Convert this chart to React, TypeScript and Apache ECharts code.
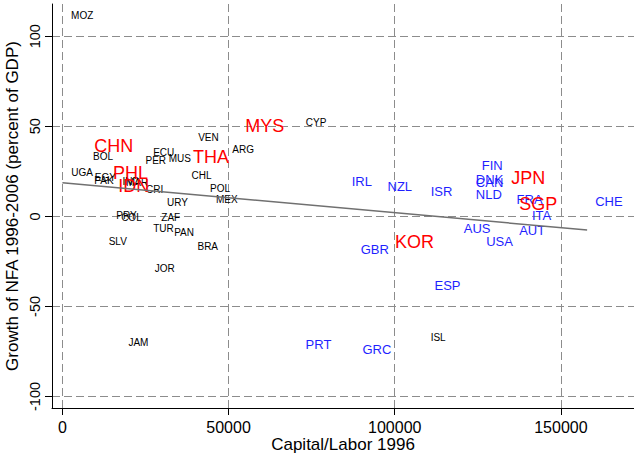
import React, { useEffect, useRef } from "react";
import * as echarts from "echarts";

// Developing economies (black, small)
const devNames = ["MOZ", "BOL", "UGA", "ECU", "PER", "MUS", "VEN", "ARG", "EGY", "PAK", "IND", "MAR", "CRI", "CHL", "POL", "MEX", "URY", "PRY", "COL", "ZAF", "TUR", "PAN", "SLV", "BRA", "CYP", "JOR", "JAM", "ISL"];
const devX = [5960, 12220, 5900, 30490, 28090, 35310, 43950, 54370, 12940, 12520, 20650, 22460, 27780, 41840, 47440, 49460, 34620, 19270, 20770, 32600, 30400, 36600, 16650, 43740, 76340, 30790, 22880, 113060];
const devY = [111.5, 33.0, 24.6, 35.6, 30.9, 31.9, 44.0, 37.3, 21.3, 20.0, 19.2, 19.0, 14.8, 22.6, 15.2, 9.4, 7.6, 0.4, -0.4, -0.4, -7.0, -9.2, -13.8, -16.6, 52.0, -28.8, -69.9, -67.4];

// Industrial economies (blue, medium)
const indNames = ["IRL", "NZL", "ISR", "GBR", "FIN", "DNK", "CAN", "NLD", "FRA", "ITA", "CHE", "AUS", "USA", "AUT", "ESP", "PRT", "GRC"];
const indX = [90100, 101530, 114090, 94010, 129320, 128540, 128540, 128330, 140580, 144190, 164450, 124800, 131550, 141360, 115890, 77060, 94610];
const indY = [19.5, 16.5, 14.0, -18.4, 28.4, 20.6, 18.7, 12.3, 9.2, 0.3, 8.5, -7.0, -13.7, -7.6, -38.4, -71.2, -74.1];

// Emerging Asia (red, large)
const asiaNames = ["CHN", "PHL", "IDN", "THA", "MYS", "KOR", "JPN", "SGP"];
const asiaX = [15440, 20470, 21460, 44730, 60900, 105960, 140160, 143170];
const asiaY = [39.3, 24.3, 17.1, 33.0, 50.2, -14.5, 21.2, 7.0];

// Fitted line
const fitX = [0, 157900];
const fitY = [18.6, -7.6];

const xTicks = [0, 50000, 100000, 150000];
const yTicks = [-100, -50, 0, 50, 100];

const FONT = "'Liberation Sans', Arial, Helvetica, sans-serif";

function labelSeries(names: string[], xs: number[], ys: number[], color: string, size: number, z: number) {
  return {
    type: "scatter",
    data: names.map((n, i) => ({ name: n, value: [xs[i], ys[i]] })),
    symbolSize: 0,
    itemStyle: { color: "transparent", opacity: 1 },
    label: {
      show: true,
      position: "inside",
      formatter: "{b}",
      color,
      opacity: 1,
      textBorderWidth: 0,
      fontSize: size,
      fontFamily: FONT,
    },
    emphasis: { disabled: true },
    silent: true,
    z,
  };
}

export default function App() {
  const ref = useRef<HTMLDivElement>(null);
  useEffect(() => {
    document.body.style.margin = "0";
    const chart = echarts.init(ref.current!, null, { renderer: "svg" });
    const grid = { lineStyle: { color: "#8c8c8c", width: 1, type: [8, 4] } };
    chart.setOption({
      animation: false,
      backgroundColor: "#ffffff",
      grid: { left: 52, right: 0, top: 4, bottom: 46, containLabel: false, outerBoundsMode: "none" },
      xAxis: {
        type: "value",
        min: -3130,
        max: 172000,
        name: "Capital/Labor 1996",
        nameLocation: "middle",
        nameGap: 28,
        nameMoveOverlap: false,
        nameTextStyle: { fontSize: 17, color: "#000", fontFamily: FONT },
        axisLine: { show: true, onZero: false, lineStyle: { color: "#000", width: 1 } },
        axisTick: { show: true, length: 7, customValues: xTicks, lineStyle: { color: "#000" } },
        axisLabel: {
          customValues: xTicks,
          margin: 11,
          fontSize: 16,
          color: "#000",
          fontFamily: FONT,
          formatter: (v: number) => String(v),
        },
        splitLine: { show: true, ...grid },
      },
      yAxis: {
        type: "value",
        min: -106.4,
        max: 117.9,
        name: "Growth of NFA 1996-2006 (percent of GDP)",
        nameLocation: "middle",
        nameGap: 31,
        nameMoveOverlap: false,
        nameTextStyle: { fontSize: 17, color: "#000", fontFamily: FONT },
        axisLine: { show: true, onZero: false, lineStyle: { color: "#000", width: 1 } },
        axisTick: { show: true, length: 7, customValues: yTicks, lineStyle: { color: "#000" } },
        axisLabel: {
          customValues: yTicks,
          rotate: 90,
          margin: 10,
          fontSize: 14.5,
          color: "#000",
          fontFamily: FONT,
          formatter: (v: number) => String(v),
        },
        splitLine: { show: true, ...grid },
      },
      series: [
        labelSeries(devNames, devX, devY, "#000000", 10, 3),
        labelSeries(indNames, indX, indY, "#1f1fff", 13, 4),
        labelSeries(asiaNames, asiaX, asiaY, "#ff0000", 18, 5),
        {
          type: "line",
          data: fitX.map((x, i) => [x, fitY[i]]),
          showSymbol: false,
          symbol: "none",
          lineStyle: { color: "#707070", width: 1.5 },
          silent: true,
          z: 6,
        },
      ],
    });
    return () => chart.dispose();
  }, []);
  return <div ref={ref} style={{ width: 634, height: 454, position: "fixed", left: 0, top: 0 }} />;
}
